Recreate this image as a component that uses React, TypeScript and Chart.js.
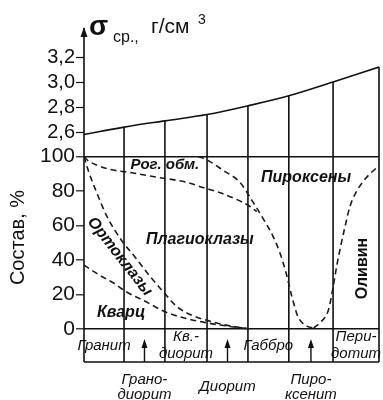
import React, { useEffect, useRef } from "react";
import { Chart, registerables } from "chart.js";

Chart.register(...registerables);

// ---- DATA ----
// Boundaries of rock types along the horizontal (abstract units 0..7)
const rockBoundaries = [0, 0.95, 1.92, 2.92, 3.89, 4.86, 5.91, 7.0];
// Mean density, g/cm3, at each boundary
const densityValues = [2.58, 2.64, 2.69, 2.74, 2.81, 2.89, 3.0, 3.12];
const densityTicks = [2.6, 2.8, 3.0, 3.2];
const densityTickLabels = ["2,6", "2,8", "3,0", "3,2"];
const compositionTicks = [0, 20, 40, 60, 80, 100];
const compositionTickLabels = ["0", "20", "40", "60", "80", "100"];
// Rock names, one per interval (even: inside the box, odd: below, with arrow)
const rockNames = ["Гранит", "Грано-\nдиорит", "Кв.-\nдиорит", "Диорит", "Габбро", "Пиро-\nксенит", "Пери-\nдотит"];

// Mineral boundary curves (x in rock units, y in %)
const quartzX = [0, 0.38, 0.74, 0.97, 1.45, 1.92, 2.28, 2.92, 3.35, 3.92];
const quartzY = [37, 31, 26, 22, 16, 10, 7, 3.5, 1.8, 0];

const orthoclaseX = [0, 0.1, 0.27, 0.55, 0.9, 1.2, 1.55, 1.9, 2.2, 2.6, 2.92, 3.3, 3.92];
const orthoclaseY = [100, 92, 81, 65, 51, 42, 31, 21, 13, 7.5, 5, 2.5, 0];

const hornblendeX = [0, 0.1, 0.31, 0.62, 1.02, 1.73, 2.44, 2.82, 3.23, 3.63, 3.94, 4.1];
const hornblendeY = [100, 97.5, 95, 92.5, 91, 88, 85, 82, 79, 75, 71, 68];

const pyroxeneX = [2.71, 2.92, 3.3, 3.7, 4.0, 4.25, 4.48, 4.65, 4.8, 4.93, 5.08, 5.3, 5.45];
const pyroxeneY = [100, 98, 92, 85, 74, 64, 54, 44, 32, 19, 7, 1.5, 0.5];

const olivineX = [5.45, 5.62, 5.8, 5.91, 6.0, 6.1, 6.2, 6.31, 6.45, 6.64, 6.83, 6.98];
const olivineY = [0.5, 4, 11, 24, 37, 49, 60, 71, 79, 86, 91, 94];

// Mineral field names
const mineralNames = ["Рог. обм.", "Пироксены", "Плагиоклазы", "Ортоклазы", "Кварц", "Оливин"];

// ---- LAYOUT (anchor of each mineral name, in data units) ----
const mineralAnchors = [
  { u: 1.92, v: 95, rot: 0, size: 15, italic: true },
  { u: 5.27, v: 87.5, rot: 0, size: 16, italic: true },
  { u: 2.75, v: 52, rot: 0, size: 16, italic: true },
  { u: 0.85, v: 42, rot: 52, size: 16, italic: true },
  { u: 0.88, v: 9.5, rot: 0, size: 16, italic: true },
  { u: 6.6, v: 35, rot: -90, size: 16, italic: false },
];

const FONT = "'Liberation Sans', Arial, Helvetica, sans-serif";
const INK = "#111";

const pts = (xs: number[], ys: number[]) => xs.map((x, i) => ({ x, y: ys[i] }));

const dashed = (label: string, xs: number[], ys: number[]) => ({
  label,
  data: pts(xs, ys),
  yAxisID: "yC",
  borderColor: "#1c1c1c",
  borderWidth: 1.6,
  borderDash: [6, 4],
  pointRadius: 0,
  fill: false,
  cubicInterpolationMode: "monotone" as const,
});

const decor = {
  id: "decor",
  beforeDatasetsDraw(chart: any) {
    const { ctx, scales, chartArea } = chart;
    const x = scales.x, yD = scales.yD, yC = scales.yC;
    const bottom = yC.getPixelForValue(yC.min);
    ctx.save();
    ctx.strokeStyle = INK;
    ctx.lineWidth = 1.6;
    rockBoundaries.forEach((b, i) => {
      const px = x.getPixelForValue(b);
      const top = i === 0 ? chartArea.top - 4 : yD.getPixelForValue(densityValues[i]);
      ctx.beginPath();
      ctx.moveTo(px, top);
      ctx.lineTo(px, bottom);
      ctx.stroke();
    });
    ctx.beginPath();
    ctx.moveTo(x.getPixelForValue(rockBoundaries[0]), bottom);
    ctx.lineTo(x.getPixelForValue(rockBoundaries[rockBoundaries.length - 1]), bottom);
    ctx.stroke();
    // arrow at top of axis
    const ax = x.getPixelForValue(0);
    const tip = chartArea.top - 5;
    ctx.fillStyle = INK;
    ctx.beginPath();
    ctx.moveTo(ax, tip);
    ctx.lineTo(ax - 3.5, tip + 10);
    ctx.lineTo(ax + 3.5, tip + 10);
    ctx.closePath();
    ctx.fill();
    ctx.restore();
  },
  afterDraw(chart: any) {
    const { ctx, scales } = chart;
    const x = scales.x, yC = scales.yC;
    const boxTop = yC.getPixelForValue(0);
    const boxBottom = yC.getPixelForValue(yC.min);
    const mid = (boxTop + boxBottom) / 2;
    ctx.save();
    ctx.fillStyle = INK;
    ctx.strokeStyle = INK;
    ctx.textAlign = "center";
    ctx.textBaseline = "middle";

    // mineral names
    mineralNames.forEach((name, i) => {
      const a = mineralAnchors[i];
      ctx.save();
      ctx.translate(x.getPixelForValue(a.u), yC.getPixelForValue(a.v));
      ctx.rotate((a.rot * Math.PI) / 180);
      ctx.font = `${a.italic ? "italic " : ""}bold ${a.size}px ${FONT}`;
      ctx.fillText(name, 0, 0);
      ctx.restore();
    });

    // rock names
    ctx.font = `italic 15px ${FONT}`;
    rockNames.forEach((name, i) => {
      const cx = (x.getPixelForValue(rockBoundaries[i]) + x.getPixelForValue(rockBoundaries[i + 1])) / 2;
      const lines = name.split("\n");
      if (i % 2 === 0) {
        if (lines.length === 1) ctx.fillText(lines[0], cx, mid);
        else {
          ctx.fillText(lines[0], cx, mid - 9);
          ctx.fillText(lines[1], cx, mid + 8);
        }
      } else {
        ctx.lineWidth = 1.4;
        ctx.beginPath();
        ctx.moveTo(cx, boxBottom);
        ctx.lineTo(cx, boxTop + 16);
        ctx.stroke();
        ctx.beginPath();
        ctx.moveTo(cx, boxTop + 10);
        ctx.lineTo(cx - 3, boxTop + 19);
        ctx.lineTo(cx + 3, boxTop + 19);
        ctx.closePath();
        ctx.fill();
        if (lines.length === 1) ctx.fillText(lines[0], cx, boxBottom + 25);
        else {
          ctx.fillText(lines[0], cx, boxBottom + 18);
          ctx.fillText(lines[1], cx, boxBottom + 33);
        }
      }
    });

    // y title
    ctx.save();
    ctx.translate(18, yC.getPixelForValue(53));
    ctx.rotate(-Math.PI / 2);
    ctx.font = `20px ${FONT}`;
    ctx.fillText("Состав, %", 0, 0);
    ctx.restore();

    // density title: σср., г/см3
    ctx.textAlign = "left";
    ctx.textBaseline = "alphabetic";
    ctx.font = `bold 28px ${FONT}`;
    ctx.fillText("σ", 89, 35);
    ctx.font = `16px ${FONT}`;
    ctx.fillText("ср.,", 113, 42);
    ctx.font = `21px ${FONT}`;
    ctx.fillText("г/см", 151, 33);
    ctx.font = `14px ${FONT}`;
    ctx.fillText("3", 198, 24);
    ctx.restore();
  },
};

export default function App() {
  const ref = useRef<HTMLCanvasElement | null>(null);
  useEffect(() => {
    if (!ref.current) return;
    const chart = new Chart(ref.current, {
      type: "line",
      data: {
        datasets: [
          {
            label: "density",
            data: pts(rockBoundaries, densityValues),
            yAxisID: "yD",
            borderColor: INK,
            borderWidth: 1.6,
            pointRadius: 0,
            fill: false,
            cubicInterpolationMode: "monotone",
          },
          dashed("quartz", quartzX, quartzY),
          dashed("orthoclase", orthoclaseX, orthoclaseY),
          dashed("hornblende", hornblendeX, hornblendeY),
          dashed("pyroxene", pyroxeneX, pyroxeneY),
          dashed("olivine", olivineX, olivineY),
        ] as any,
      },
      options: {
        animation: false,
        responsive: false,
        layout: { padding: { left: 0, right: 4, top: 32, bottom: 38 } },
        plugins: { legend: { display: false }, tooltip: { enabled: false } },
        scales: {
          x: { type: "linear", min: 0, max: 7, display: false },
          yC: {
            type: "linear",
            position: "left",
            stack: "v",
            stackWeight: 205.5,
            min: -19.2,
            max: 100,
            border: { display: false },
            afterBuildTicks: (s: any) => {
              s.ticks = compositionTicks.map((v) => ({ value: v }));
            },
            afterFit: (s: any) => {
              s.width = 84;
            },
            grid: {
              color: (c: any) =>
                c.tick && (c.tick.value === 0 || c.tick.value === 100) ? INK : "rgba(0,0,0,0)",
              lineWidth: 1.6,
              tickColor: INK,
              tickLength: 8,
              tickWidth: 1.2,
            },
            ticks: {
              autoSkip: false,
              color: INK,
              padding: 1,
              font: { family: FONT, size: 21 },
              callback: (v: any) => {
                const i = compositionTicks.indexOf(Number(v));
                return i >= 0 ? compositionTickLabels[i] : "";
              },
            },
          },
          yD: {
            type: "linear",
            position: "left",
            stack: "v",
            stackWeight: 124.5,
            min: 2.405,
            max: 3.4,
            border: { display: false },
            afterBuildTicks: (s: any) => {
              s.ticks = densityTicks.map((v) => ({ value: v }));
            },
            afterFit: (s: any) => {
              s.width = 84;
            },
            grid: {
              drawOnChartArea: false,
              color: INK,
              tickColor: INK,
              tickLength: 8,
              tickWidth: 1.2,
            },
            ticks: {
              autoSkip: false,
              color: INK,
              padding: 1,
              font: { family: FONT, size: 20 },
              callback: (v: any) => {
                const i = densityTicks.findIndex((t) => Math.abs(t - Number(v)) < 1e-6);
                return i >= 0 ? densityTickLabels[i] : "";
              },
            },
          },
        } as any,
      },
      plugins: [decor],
    });
    return () => chart.destroy();
  }, []);
  return (
    <div style={{ position: "absolute", left: 0, top: 0, width: 383, height: 400, background: "#fff" }}>
      <canvas ref={ref} width={383} height={400} style={{ display: "block" }} />
    </div>
  );
}
